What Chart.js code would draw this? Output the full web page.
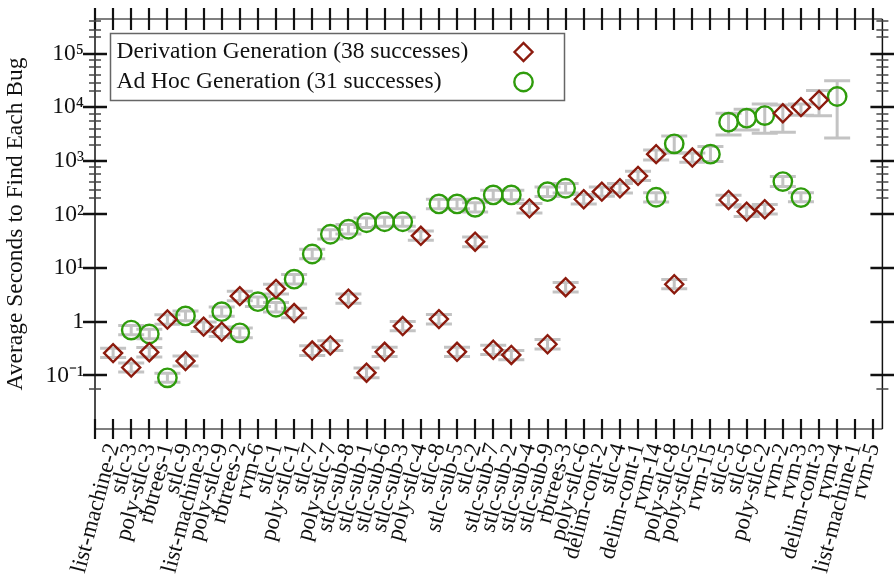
<!DOCTYPE html>
<html>
<head>
<meta charset="utf-8">
<script src="https://cdn.jsdelivr.net/npm/chart.js@4/dist/chart.umd.min.js"></script>
<style>html,body{margin:0;padding:0;background:#fff}</style>
</head>
<body>
<canvas id="c" width="894" height="581"></canvas>
<script>
// Benchmark bugs, ordered by difficulty
const bugs = ['list-machine-2','stlc-3','poly-stlc-3','rbtrees-1','stlc-9','list-machine-3','poly-stlc-9','rbtrees-2','rvm-6','stlc-1',
  'poly-stlc-1','stlc-7','poly-stlc-7','stlc-sub-8','stlc-sub-1','stlc-sub-6','stlc-sub-3','poly-stlc-4','stlc-8','stlc-sub-5',
  'stlc-2','stlc-sub-7','stlc-sub-2','stlc-sub-4','stlc-sub-9','rbtrees-3','poly-stlc-6','delim-cont-2','stlc-4','delim-cont-1',
  'rvm-14','poly-stlc-8','poly-stlc-5','rvm-15','stlc-5','stlc-6','poly-stlc-2','rvm-2','rvm-3','delim-cont-3',
  'rvm-4','list-machine-1','rvm-5'];

// Average seconds to find each bug (null = bug never found)
const derivTime = [0.26,0.14,0.27,1.1,0.185,0.81,0.65,3.0,null,4.1,
  1.45,0.29,0.36,2.7,0.112,0.275,0.83,40,1.12,0.275,
  31,0.30,0.24,130,0.38,4.4,192,266,308,523,
  1330,5.0,1150,null,186,113,125,7700,10000,13700,
  null,null,null];
const derivLo = [0.215,0.115,0.22,0.9,0.15,0.66,0.53,2.45,null,3.3,
  1.18,0.235,0.29,2.2,0.09,0.225,0.68,33,0.91,0.225,
  25,0.245,0.195,106,0.31,3.6,157,218,252,428,
  1040,4.1,940,null,152,92,102,3400,7100,6900,
  null,null,null];
const derivHi = [0.32,0.17,0.33,1.35,0.23,0.99,0.8,3.7,null,5.0,
  1.78,0.355,0.44,3.3,0.137,0.335,1.01,49,1.37,0.335,
  38,0.365,0.29,160,0.465,5.4,235,325,376,640,
  1590,6.1,1400,null,227,138,153,11000,11500,20400,
  null,null,null];

const adhocTime = [null,0.70,0.59,0.090,1.28,null,1.54,0.62,2.36,1.86,
  6.2,18.3,42.7,53,70,73,73,null,157,157,
  136,231,231,null,266,308,null,null,null,null,
  209,2070,null,1330,5250,6240,6970,409,206,null,
  15800,null,null];
const adhocLo = [null,0.57,0.48,0.074,1.04,null,1.26,0.5,1.93,1.52,
  5.05,14.9,34.8,43,57,60,60,null,128,128,
  111,188,188,null,217,251,null,null,null,null,
  170,1400,null,970,3040,3770,3270,330,173,null,
  2670,null,null];
const adhocHi = [null,0.85,0.72,0.11,1.58,null,1.88,0.76,2.88,2.27,
  7.6,22.4,52,65,86,89,89,null,192,192,
  166,282,282,null,325,376,null,null,null,null,
  255,2900,null,1840,7730,9180,11500,507,255,null,
  31000,null,null];

const seriesNames = ['Derivation Generation (38 successes)', 'Ad Hoc Generation (31 successes)'];
const yTitle = 'Average Seconds to Find Each Bug';
const yMajorTicks = [0.1, 1, 10, 100, 1000, 10000, 100000];
const yTickLabels = ['10⁻¹', '1', '10¹', '10²', '10³', '10⁴', '10⁵'];
const yMinorTicks = [0.055, 200, 280, 400, 560, 760, 2000, 2800, 4000, 5600, 7600,
  20000, 28000, 40000, 56000, 76000, 200000, 280000, 400000];

const FONT = "'Liberation Serif', 'Times New Roman', serif";
const RED = '#8c1b0e';
const GREEN = '#2f9c0c';

function toPoints(vals, lo, hi) {
  const pts = [];
  vals.forEach((v, i) => { if (v != null) pts.push({x: i, y: v, lo: lo[i], hi: hi[i]}); });
  return pts;
}

// Grey min/max whiskers behind every marker
const errorBars = {
  id: 'errorBars',
  beforeDatasetsDraw(chart) {
    const {ctx, scales: {x, y}} = chart;
    ctx.save();
    ctx.strokeStyle = '#c3c3c3';
    ctx.lineWidth = 3;
    chart.data.datasets.forEach(ds => ds.data.forEach(p => {
      const px = x.getPixelForValue(p.x);
      const y1 = y.getPixelForValue(p.lo), y2 = y.getPixelForValue(p.hi);
      ctx.beginPath();
      ctx.moveTo(px, y1); ctx.lineTo(px, y2);
      ctx.moveTo(px - 13, y1); ctx.lineTo(px + 13, y1);
      ctx.moveTo(px - 13, y2); ctx.lineTo(px + 13, y2);
      ctx.stroke();
    }));
    ctx.restore();
  }
};

// Box frame with ticks crossing every side
const frame = {
  id: 'frame',
  afterDraw(chart) {
    const {ctx, chartArea: a, scales: {x, y}} = chart;
    const seg = (x1, y1, x2, y2) => { ctx.beginPath(); ctx.moveTo(x1, y1); ctx.lineTo(x2, y2); ctx.stroke(); };
    ctx.save();
    ctx.lineWidth = 1.5;
    ctx.strokeStyle = '#555';
    seg(a.left, a.top, a.right, a.top);
    seg(a.left, a.bottom, a.right, a.bottom);
    ctx.strokeStyle = '#111';
    seg(a.left, a.top, a.left, a.bottom);
    seg(a.right, a.top, a.right, a.bottom);
    ctx.lineWidth = 2.2;
    ctx.strokeStyle = '#111';
    x.ticks.forEach(t => {
      const px = Math.round(x.getPixelForValue(t.value));
      seg(px, a.top - 11, px, a.top + 11);
      seg(px, a.bottom - 10, px, a.bottom + 10);
    });
    y.ticks.forEach(t => {
      const py = Math.round(y.getPixelForValue(t.value));
      if (yMajorTicks.includes(t.value)) {
        ctx.lineWidth = 2.5; ctx.strokeStyle = '#111';
        seg(a.left - 12, py, a.left + 12, py);
        seg(a.right - 12, py, a.right + 12, py);
      } else {
        ctx.lineWidth = 1.5; ctx.strokeStyle = '#444';
        seg(a.left - 6, py, a.left + 6, py);
        seg(a.right - 6, py, a.right + 6, py);
      }
    });
    ctx.restore();
  }
};

// Legend box: labels on the left, markers on the right
const legendBox = {
  id: 'legendBox',
  afterDraw(chart) {
    const {ctx, chartArea: a} = chart;
    const bx = a.left + 15.5, by = a.top + 14.5, bw = 454, bh = 67;
    ctx.save();
    ctx.fillStyle = '#fff';
    ctx.fillRect(bx, by, bw, bh);
    ctx.strokeStyle = '#666';
    ctx.lineWidth = 1.5;
    ctx.strokeRect(bx, by, bw, bh);
    ctx.font = '23.5px ' + FONT;
    ctx.fillStyle = '#111';
    ctx.textBaseline = 'middle';
    ctx.textAlign = 'left';
    const rows = [by + 18.5, by + 48.5];
    ctx.fillText(seriesNames[0], bx + 6, rows[0]);
    ctx.fillText(seriesNames[1], bx + 6, rows[1]);
    const mx = bx + 413;
    ctx.lineWidth = 2.4;
    ctx.strokeStyle = RED;
    ctx.beginPath();
    ctx.moveTo(mx - 9, rows[0]); ctx.lineTo(mx, rows[0] - 9); ctx.lineTo(mx + 9, rows[0]); ctx.lineTo(mx, rows[0] + 9);
    ctx.closePath(); ctx.stroke();
    ctx.strokeStyle = GREEN;
    ctx.beginPath();
    ctx.arc(mx, rows[1], 9.2, 0, Math.PI * 2);
    ctx.stroke();
    ctx.restore();
  }
};

new Chart(document.getElementById('c'), {
  type: 'scatter',
  data: {
    datasets: [
      {
        label: seriesNames[0],
        data: toPoints(derivTime, derivLo, derivHi),
        pointStyle: 'rectRot', pointRadius: 9, pointBorderWidth: 2.4,
        pointBorderColor: RED, pointBackgroundColor: 'rgba(0,0,0,0)', borderColor: RED
      },
      {
        label: seriesNames[1],
        data: toPoints(adhocTime, adhocLo, adhocHi),
        pointStyle: 'circle', pointRadius: 9.2, pointBorderWidth: 2.4,
        pointBorderColor: GREEN, pointBackgroundColor: 'rgba(0,0,0,0)', borderColor: GREEN
      }
    ]
  },
  options: {
    responsive: false,
    animation: false,
    devicePixelRatio: 1,
    layout: {padding: {top: 19, right: 2, left: 0, bottom: 0}},
    plugins: {legend: {display: false}, tooltip: {enabled: false}},
    scales: {
      x: {
        type: 'linear', min: -1, max: 42.5,
        grid: {display: false, drawTicks: false}, border: {display: false},
        afterBuildTicks: s => { s.ticks = [{value: -1}].concat(bugs.map((b, i) => ({value: i}))); },
        afterFit: s => { s.height = 152; s.paddingLeft = 0; s.paddingRight = 0; },
        ticks: {
          autoSkip: false, minRotation: 75, maxRotation: 75, padding: 14,
          color: '#111', font: {family: FONT, size: 23, lineHeight: 0.35},
          callback: v => (v >= 0 && v < bugs.length) ? bugs[v] : ''
        }
      },
      y: {
        type: 'logarithmic', min: 0.01, max: 440000,
        grid: {display: false, drawTicks: false}, border: {display: false},
        afterBuildTicks: s => { s.ticks = yMajorTicks.concat(yMinorTicks).map(v => ({value: v})); },
        afterFit: s => { s.width = 95; s.paddingTop = 0; s.paddingBottom = 0; },
        title: {display: true, text: yTitle, color: '#111', font: {family: FONT, size: 23.5}, padding: {top: 2, bottom: 0}},
        ticks: {
          autoSkip: false, padding: 11, color: '#111', font: {family: FONT, size: 23.5},
          callback: v => { const k = yMajorTicks.indexOf(v); return k >= 0 ? yTickLabels[k] : ''; }
        }
      }
    }
  },
  plugins: [errorBars, frame, legendBox]
});
</script>
</body>
</html>
